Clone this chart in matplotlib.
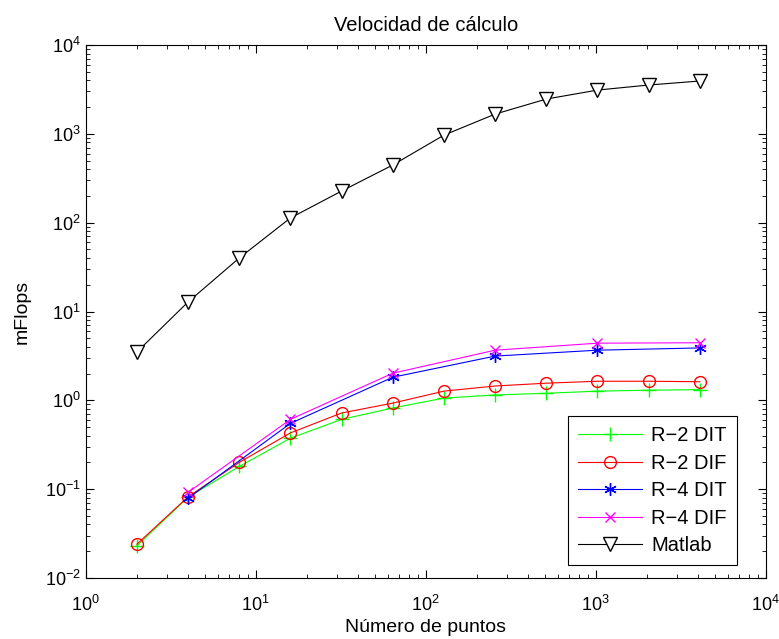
import numpy as np
import matplotlib
matplotlib.use('Agg')
import matplotlib.pyplot as plt

plt.rcParams['font.family'] = ['Liberation Sans', 'DejaVu Sans']
plt.rcParams['mathtext.fontset'] = 'custom'
plt.rcParams['mathtext.rm'] = 'Liberation Sans'
plt.rcParams['mathtext.it'] = 'Liberation Sans'
plt.rcParams['mathtext.default'] = 'regular'

# data
n2 = [2, 4, 8, 16, 32, 64, 128, 256, 512, 1024, 2048, 4096]
n4 = [4, 16, 64, 256, 1024, 4096]
r2_dit = [0.023, 0.081, 0.18, 0.375, 0.61, 0.82, 1.06, 1.15, 1.2, 1.27, 1.3, 1.32]
r2_dif = [0.024, 0.082, 0.20, 0.43, 0.72, 0.93, 1.27, 1.45, 1.56, 1.64, 1.64, 1.62]
r4_dit = [0.079, 0.55, 1.82, 3.15, 3.67, 3.89]
r4_dif = [0.092, 0.61, 2.02, 3.67, 4.4, 4.45]
matlab = [3.5, 12.8, 40, 113, 227, 446, 968, 1670, 2466, 3112, 3548, 3936]

fig = plt.figure(figsize=(7.79, 6.39), dpi=100)
ax = fig.add_axes([0.110, 0.0955, 0.873, 0.834])

ax.plot(n2, r2_dit, color='#00ff00', marker='+', ms=10, lw=0.8, label='R\u22122 DIT')
ax.plot(n2, r2_dif, color='red', marker='o', ms=8.5, mfc='none', lw=0.8, label='R\u22122 DIF')
ax.plot(n4, r4_dit, color='blue', marker=(6, 2, 0), ms=9, lw=0.8, label='R\u22124 DIT')
ax.plot(n4, r4_dif, color='magenta', marker='x', ms=7, lw=0.8, label='R\u22124 DIF')
ax.plot(n2, matlab, color='black', marker='v', ms=10, mfc='white', lw=0.8, label='Matlab')

ax.set_xscale('log')
ax.set_yscale('log')
ax.set_xlim(1, 1e4)
ax.set_ylim(1e-2, 1e4)
ax.tick_params(which='both', direction='in', top=True, right=True, labelsize=13)
ax.tick_params(which='major', length=6)
ax.tick_params(which='minor', length=3)
ax.tick_params(axis='x', pad=12)
ax.set_title('Velocidad de c\u00e1lculo', fontsize=14.5, pad=10)
ax.set_xlabel('N\u00famero de puntos', fontsize=14, labelpad=3)
ax.set_ylabel('mFlops', fontsize=14, labelpad=10)

leg = ax.legend(loc='lower right', bbox_to_anchor=(0.958, 0.024), borderaxespad=0,
                fontsize=14.5, fancybox=False, edgecolor='black', framealpha=1,
                handlelength=3.2, handletextpad=0.45, labelspacing=0.42, borderpad=0.5)
leg.get_frame().set_linewidth(0.8)

fig.savefig('out.png', dpi=100)
